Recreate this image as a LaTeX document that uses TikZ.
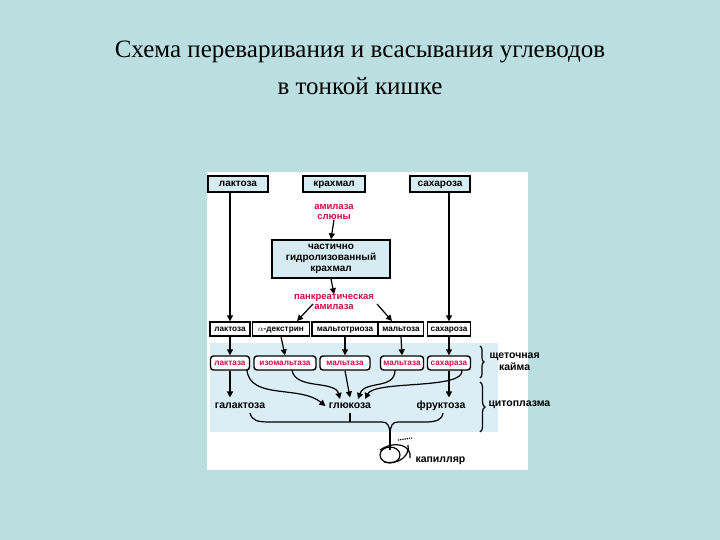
\documentclass[tikz,border=0pt]{standalone}
\usepackage{fontspec}
\setmainfont{Liberation Serif}
\newfontfamily\dsans{Liberation Sans}
\usetikzlibrary{decorations.pathreplacing,arrows.meta}
\definecolor{bg}{HTML}{BBDFE1}
\definecolor{pale}{HTML}{D6ECF2}
\definecolor{zone}{HTML}{DCEEF5}
\definecolor{enz}{HTML}{C8104A}
\begin{document}
\begin{tikzpicture}[x=1pt,y=-1pt,
  sq/.style={draw,line width=1.5pt,fill=pale,font=\dsans\bfseries\fontsize{10}{11}\selectfont,inner sep=2pt,minimum height=16pt,align=center},
  sq1/.style={sq,text height=7.5pt,text depth=2.5pt},
  rw/.style={draw,line width=1.4pt,fill=white,font=\dsans\bfseries\fontsize{8.2}{9}\selectfont,inner sep=0.5pt,minimum height=14pt,text height=6.2pt,text depth=2pt},
  en/.style={draw,line width=1.4pt,rounded corners=3pt,fill=white,text=enz,font=\dsans\bfseries\fontsize{8.2}{9}\selectfont,inner sep=0.5pt,minimum height=14pt,text height=6.2pt,text depth=2pt},
  lb/.style={font=\dsans\bfseries\fontsize{10.5}{12}\selectfont,text height=7.5pt,text depth=2.5pt},
  rl/.style={text=enz,font=\dsans\bfseries\fontsize{9.5}{10}\selectfont,align=center,inner sep=0pt},
  ar/.style={line width=1.2pt,-{Triangle[length=6pt,width=6pt]}},
  ln/.style={line width=1.2pt}]
\fill[bg] (0,0) rectangle (720,540);
\useasboundingbox (0,0) rectangle (720,540);
\node[font=\fontsize{25}{28}\selectfont] (t1) at (360,52) {Схема переваривания и всасывания углеводов};
\node[font=\fontsize{25}{28}\selectfont] (t2) at (360,86) {в тонкой кишке};
\fill[white] (207,172) rectangle (528,470);
\fill[zone] (210,343) rectangle (498,432);
% top
\node[sq1,minimum width=60pt] (lak) at (238,184) {лактоза};
\node[sq1,minimum width=62pt] (kra) at (334,184) {крахмал};
\node[sq1,minimum width=60pt] (sah) at (440,184) {сахароза};
\node[rl] (am1) at (334,212) {амилаза\\слюны};
\node[sq,minimum width=118pt,minimum height=38pt] (chg) at (331,259) {частично\\гидролизованный\\крахмал};
\node[rl] (am2) at (334,302) {панкреатическая\\амилаза};
% row
\node[rw,minimum width=40pt] (r1) at (230,329) {лактоза};
\node[rw,minimum width=57pt] (r2) at (281,329) {$\alpha$-декстрин};
\node[rw,minimum width=66pt] (r3) at (345,329) {мальтотриоза};
\node[rw,minimum width=45pt] (r4) at (401,329) {мальтоза};
\node[rw,minimum width=43pt] (r5) at (449,329) {сахароза};
\node[en,minimum width=39pt] (e1) at (230,363) {лактаза};
\node[en,minimum width=62pt] (e2) at (285,363) {изомальтаза};
\node[en,minimum width=50pt] (e3) at (345,363) {мальтаза};
\node[en,minimum width=43pt] (e4) at (402,363) {мальтаза};
\node[en,minimum width=43pt] (e5) at (449,363) {сахараза};
\node[lb] (gal) at (240,406) {галактоза};
\node[lb] (glu) at (350,406) {глюкоза};
\node[lb] (fru) at (441,406) {фруктоза};
\node[lb,anchor=west] (kap) at (412,460) {капилляр};
\node[font=\dsans\bfseries\fontsize{10.5}{12}\selectfont,anchor=west,align=center] (sk) at (486,362) {щеточная\\кайма};
\node[lb,anchor=west] (cy) at (485,404) {цитоплазма};
% arrows
\draw[ar] (lak.south -| r1.north) -- (r1.north);
\draw[ar] (sah.south -| r5.north) -- (r5.north);
\draw[ar] (am1.south) -- (chg.north);
\draw[ar] (chg.south) -- (am2.north);
\draw[ar] (313,304) -- (297,321);
\draw[ar] (377,304) -- (392,321);
\foreach \i in {1,2,3,4,5}{\draw[ar] (r\i.south) -- (e\i.north);}
\draw[ar] (e1.south) -- (gal.north -| e1.south);
\draw[ar] (e3.south) -- (glu.north);
\draw[ar] (e5.south) -- (fru.north -| e5.south);
\draw[ar] (247,370) .. controls (250,400) and (300,385) .. (glu.west);
\draw[ar] (292,370) .. controls (295,390) and (335,380) .. (340,399);
\draw[ar] (395,370) .. controls (395,390) and (365,380) .. (358,399);
\draw[ar] (462,370) .. controls (465,390) and (375,380) .. (365,399);
% collection
\draw[ln] (250,413) .. controls (252,421) and (258,422) .. (270,422) -- (382,422) .. controls (388,422) and (389,426) .. (390,432);
\draw[ln] (350,413) -- (350,422);
\draw[ln] (443,413) .. controls (442,420) and (436,422) .. (425,422) -- (398,422) .. controls (392,422) and (391,426) .. (390,432);
\draw[ln] (390,432) -- (390,450);
\draw[ln] (390,455) ellipse (10pt and 8pt);
\draw[ln] (380,450) .. controls (395,440) and (412,445) .. (410,458);
\draw[ln] (384,462) .. controls (400,465) and (410,455) .. (408,445);
\draw[ln,densely dotted] (398,440) -- (412,438);
% braces
\draw[line width=1.2pt,decorate,decoration={brace,amplitude=4pt}] (480,346) -- (480,378);
\draw[line width=1.2pt,decorate,decoration={brace,amplitude=5pt}] (480,382) -- (480,432);
\end{tikzpicture}
\end{document}
